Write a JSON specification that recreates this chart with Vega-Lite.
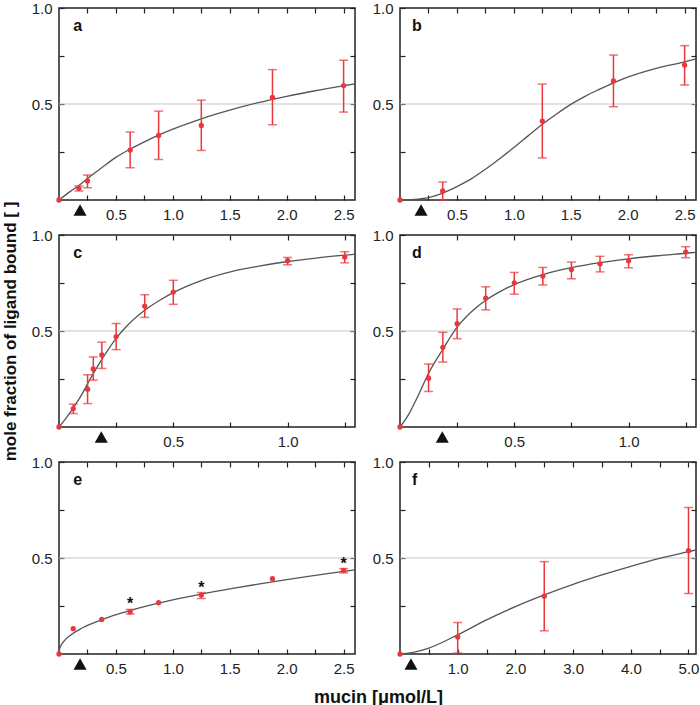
{
"$schema":"https://vega.github.io/schema/vega-lite/v6.json",
"padding":{"left":0,"top":0,"right":5,"bottom":3},
"bounds":"flush",
"columns":2,
"spacing":{"row":35,"column":45},
"datasets":{
"pts":[
{"p":"a","x":0,"y":0},{"p":"a","x":0.175,"y":0.061,"lo":0.047,"hi":0.073},{"p":"a","x":0.25,"y":0.099,"lo":0.064,"hi":0.13},{"p":"a","x":0.625,"y":0.26,"lo":0.168,"hi":0.354},{"p":"a","x":0.875,"y":0.336,"lo":0.211,"hi":0.463},{"p":"a","x":1.25,"y":0.388,"lo":0.258,"hi":0.52},{"p":"a","x":1.875,"y":0.534,"lo":0.392,"hi":0.679},{"p":"a","x":2.5,"y":0.596,"lo":0.458,"hi":0.728},
{"p":"b","x":0,"y":0},{"p":"b","x":0.375,"y":0.047,"lo":0,"hi":0.094},{"p":"b","x":1.25,"y":0.411,"lo":0.219,"hi":0.604},{"p":"b","x":1.875,"y":0.62,"lo":0.486,"hi":0.755},{"p":"b","x":2.5,"y":0.703,"lo":0.599,"hi":0.804},
{"p":"c","x":0,"y":0},{"p":"c","x":0.0625,"y":0.096,"lo":0.07,"hi":0.119},{"p":"c","x":0.125,"y":0.197,"lo":0.122,"hi":0.272},{"p":"c","x":0.15,"y":0.302,"lo":0.244,"hi":0.365},{"p":"c","x":0.1875,"y":0.375,"lo":0.305,"hi":0.442},{"p":"c","x":0.25,"y":0.471,"lo":0.403,"hi":0.539},{"p":"c","x":0.375,"y":0.63,"lo":0.571,"hi":0.689},{"p":"c","x":0.5,"y":0.703,"lo":0.639,"hi":0.764},{"p":"c","x":1.0,"y":0.866,"lo":0.845,"hi":0.883},{"p":"c","x":1.25,"y":0.885,"lo":0.855,"hi":0.913},
{"p":"d","x":0,"y":0},{"p":"d","x":0.125,"y":0.254,"lo":0.185,"hi":0.328},{"p":"d","x":0.1875,"y":0.415,"lo":0.338,"hi":0.493},{"p":"d","x":0.25,"y":0.538,"lo":0.46,"hi":0.615},{"p":"d","x":0.375,"y":0.671,"lo":0.61,"hi":0.73},{"p":"d","x":0.5,"y":0.751,"lo":0.692,"hi":0.805},{"p":"d","x":0.625,"y":0.786,"lo":0.74,"hi":0.831},{"p":"d","x":0.75,"y":0.82,"lo":0.772,"hi":0.859},{"p":"d","x":0.875,"y":0.85,"lo":0.808,"hi":0.889},{"p":"d","x":1.0,"y":0.866,"lo":0.829,"hi":0.897},{"p":"d","x":1.25,"y":0.911,"lo":0.882,"hi":0.939},
{"p":"e","x":0,"y":0},{"p":"e","x":0.125,"y":0.132},{"p":"e","x":0.375,"y":0.18},{"p":"e","x":0.625,"y":0.22,"lo":0.208,"hi":0.232,"star":"*"},{"p":"e","x":0.875,"y":0.267},{"p":"e","x":1.25,"y":0.307,"lo":0.289,"hi":0.32,"star":"*"},{"p":"e","x":1.875,"y":0.392},{"p":"e","x":2.5,"y":0.435,"lo":0.423,"hi":0.445,"star":"*"},
{"p":"f","x":0,"y":0},{"p":"f","x":1.0,"y":0.088,"lo":0.005,"hi":0.164},{"p":"f","x":2.5,"y":0.301,"lo":0.121,"hi":0.481},{"p":"f","x":5.0,"y":0.538,"lo":0.315,"hi":0.763}
],
"crv":[
{"p":"a","x":0,"y":0},{"p":"a","x":0.1,"y":0.045},{"p":"a","x":0.175,"y":0.076},{"p":"a","x":0.25,"y":0.112},{"p":"a","x":0.375,"y":0.168},{"p":"a","x":0.5,"y":0.222},{"p":"a","x":0.625,"y":0.265},{"p":"a","x":0.75,"y":0.303},{"p":"a","x":0.875,"y":0.338},{"p":"a","x":1.0,"y":0.369},{"p":"a","x":1.25,"y":0.423},{"p":"a","x":1.5,"y":0.468},{"p":"a","x":1.75,"y":0.507},{"p":"a","x":2.0,"y":0.54},{"p":"a","x":2.25,"y":0.569},{"p":"a","x":2.5,"y":0.595},{"p":"a","x":2.6,"y":0.605},
{"p":"b","x":0,"y":0},{"p":"b","x":0.125,"y":0.003},{"p":"b","x":0.25,"y":0.012},{"p":"b","x":0.375,"y":0.036},{"p":"b","x":0.5,"y":0.07},{"p":"b","x":0.625,"y":0.11},{"p":"b","x":0.75,"y":0.16},{"p":"b","x":0.875,"y":0.215},{"p":"b","x":1.0,"y":0.273},{"p":"b","x":1.125,"y":0.334},{"p":"b","x":1.25,"y":0.394},{"p":"b","x":1.375,"y":0.448},{"p":"b","x":1.5,"y":0.498},{"p":"b","x":1.625,"y":0.54},{"p":"b","x":1.75,"y":0.576},{"p":"b","x":1.875,"y":0.61},{"p":"b","x":2.0,"y":0.64},{"p":"b","x":2.25,"y":0.686},{"p":"b","x":2.5,"y":0.72},{"p":"b","x":2.6,"y":0.735},
{"p":"c","x":0,"y":0},{"p":"c","x":0.03,"y":0.045},{"p":"c","x":0.0625,"y":0.1},{"p":"c","x":0.1,"y":0.17},{"p":"c","x":0.125,"y":0.225},{"p":"c","x":0.15,"y":0.278},{"p":"c","x":0.1875,"y":0.352},{"p":"c","x":0.25,"y":0.462},{"p":"c","x":0.3,"y":0.53},{"p":"c","x":0.375,"y":0.608},{"p":"c","x":0.45,"y":0.667},{"p":"c","x":0.5,"y":0.7},{"p":"c","x":0.625,"y":0.764},{"p":"c","x":0.75,"y":0.808},{"p":"c","x":0.875,"y":0.838},{"p":"c","x":1.0,"y":0.862},{"p":"c","x":1.125,"y":0.88},{"p":"c","x":1.25,"y":0.895},{"p":"c","x":1.295,"y":0.9},
{"p":"d","x":0,"y":0},{"p":"d","x":0.04,"y":0.07},{"p":"d","x":0.08,"y":0.165},{"p":"d","x":0.125,"y":0.28},{"p":"d","x":0.1875,"y":0.405},{"p":"d","x":0.25,"y":0.52},{"p":"d","x":0.3125,"y":0.6},{"p":"d","x":0.375,"y":0.66},{"p":"d","x":0.4375,"y":0.705},{"p":"d","x":0.5,"y":0.742},{"p":"d","x":0.625,"y":0.794},{"p":"d","x":0.75,"y":0.83},{"p":"d","x":0.875,"y":0.856},{"p":"d","x":1.0,"y":0.876},{"p":"d","x":1.125,"y":0.892},{"p":"d","x":1.25,"y":0.905},{"p":"d","x":1.295,"y":0.91},
{"p":"e","x":0,"y":0},{"p":"e","x":0.005,"y":0.025},{"p":"e","x":0.02,"y":0.047},{"p":"e","x":0.05,"y":0.071},{"p":"e","x":0.1,"y":0.098},{"p":"e","x":0.2,"y":0.134},{"p":"e","x":0.3,"y":0.161},{"p":"e","x":0.45,"y":0.195},{"p":"e","x":0.6,"y":0.222},{"p":"e","x":0.8,"y":0.254},{"p":"e","x":1.0,"y":0.282},{"p":"e","x":1.25,"y":0.312},{"p":"e","x":1.5,"y":0.339},{"p":"e","x":1.75,"y":0.364},{"p":"e","x":2.0,"y":0.387},{"p":"e","x":2.25,"y":0.409},{"p":"e","x":2.5,"y":0.43},{"p":"e","x":2.6,"y":0.438},
{"p":"f","x":0,"y":0},{"p":"f","x":0.25,"y":0.01},{"p":"f","x":0.5,"y":0.031},{"p":"f","x":1.0,"y":0.1},{"p":"f","x":1.5,"y":0.178},{"p":"f","x":2.0,"y":0.247},{"p":"f","x":2.5,"y":0.308},{"p":"f","x":3.0,"y":0.363},{"p":"f","x":3.5,"y":0.412},{"p":"f","x":4.0,"y":0.457},{"p":"f","x":4.5,"y":0.498},{"p":"f","x":5.0,"y":0.533},{"p":"f","x":5.13,"y":0.542}
],
"mk":[{"p":"a","x":0.185},{"p":"b","x":0.185},{"p":"c","x":0.185},{"p":"d","x":0.185},{"p":"e","x":0.185},{"p":"f","x":0.19}]
},
"concat":[
{"width":296,"height":192,"resolve":{"axis":{"x":"independent","y":"independent"}},"layer":[
 {"data":{"values":[{"v":0.5}]},"mark":{"type":"rule","color":"#c8c8c8","strokeWidth":1.2},"encoding":{"y":{"field":"v","type":"quantitative","scale":{"domain":[0,1],"nice":false},"axis":null}}},
 {"data":{"name":"crv"},"transform":[{"filter":"datum.p=='a'"}],"mark":{"type":"line","color":"#555555","strokeWidth":1.3,"interpolate":"monotone"},"encoding":{"x":{"field":"x","type":"quantitative","scale":{"domain":[0,2.6],"nice":false},"axis":{"orient":"top","values":[0.25,0.5,0.75,1,1.25,1.5,1.75,2,2.25,2.5],"labels":false,"tickSize":-5,"title":null}},"y":{"field":"y","type":"quantitative","scale":{"domain":[0,1],"nice":false},"axis":{"orient":"right","values":[0.25,0.5,0.75,1],"labels":false,"tickSize":-5,"title":null}}}},
 {"data":{"name":"pts"},"transform":[{"filter":"datum.p=='a' && isValid(datum.lo)"}],"mark":{"type":"rule","color":"#e8383d","strokeWidth":1.5},"encoding":{"x":{"field":"x","type":"quantitative","axis":null},"y":{"field":"lo","type":"quantitative","axis":null},"y2":{"field":"hi"}}},
 {"data":{"name":"pts"},"transform":[{"filter":"datum.p=='a' && isValid(datum.lo)"}],"mark":{"type":"tick","orient":"horizontal","color":"#e8383d","size":9,"thickness":1.5},"encoding":{"x":{"field":"x","type":"quantitative","axis":null},"y":{"field":"lo","type":"quantitative","axis":null}}},
 {"data":{"name":"pts"},"transform":[{"filter":"datum.p=='a' && isValid(datum.lo)"}],"mark":{"type":"tick","orient":"horizontal","color":"#e8383d","size":9,"thickness":1.5},"encoding":{"x":{"field":"x","type":"quantitative","axis":null},"y":{"field":"hi","type":"quantitative","axis":null}}},
 {"data":{"name":"pts"},"transform":[{"filter":"datum.p=='a'"}],"mark":{"type":"circle","color":"#e8383d","size":28,"opacity":1},"encoding":{"x":{"field":"x","type":"quantitative","axis":{"orient":"bottom","values":[0.25,0.5,0.75,1,1.25,1.5,1.75,2,2.25,2.5],"labelExpr":"(datum.value*2)%1==0 ? format(datum.value,'.1f') : ''","tickSize":-5,"labelPadding":12,"title":null}},"y":{"field":"y","type":"quantitative","axis":{"orient":"left","values":[0.25,0.5,0.75,1],"labelExpr":"datum.value==0.5||datum.value==1 ? format(datum.value,'.1f') : ''","tickSize":-5,"labelPadding":12,"title":null}}}},
 {"data":{"name":"mk"},"transform":[{"filter":"datum.p=='a'"}],"mark":{"type":"point","shape":"triangle-up","filled":true,"color":"#111111","size":170,"opacity":1},"encoding":{"x":{"field":"x","type":"quantitative","axis":null},"y":{"datum":-0.052,"type":"quantitative","axis":null}}},
 {"data":{"values":[{"t":"a"}]},"mark":{"type":"text","align":"left","baseline":"middle","fontWeight":"bold","fontSize":16,"color":"#111111"},"encoding":{"text":{"field":"t"},"x":{"datum":0.125,"type":"quantitative","axis":null},"y":{"datum":0.906,"type":"quantitative","axis":null}}}
]},
{"width":296,"height":192,"resolve":{"axis":{"x":"independent","y":"independent"}},"layer":[
 {"data":{"values":[{"v":0.5}]},"mark":{"type":"rule","color":"#c8c8c8","strokeWidth":1.2},"encoding":{"y":{"field":"v","type":"quantitative","scale":{"domain":[0,1],"nice":false},"axis":null}}},
 {"data":{"name":"crv"},"transform":[{"filter":"datum.p=='b'"}],"mark":{"type":"line","color":"#555555","strokeWidth":1.3,"interpolate":"monotone"},"encoding":{"x":{"field":"x","type":"quantitative","scale":{"domain":[0,2.6],"nice":false},"axis":{"orient":"top","values":[0.25,0.5,0.75,1,1.25,1.5,1.75,2,2.25,2.5],"labels":false,"tickSize":-5,"title":null}},"y":{"field":"y","type":"quantitative","scale":{"domain":[0,1],"nice":false},"axis":{"orient":"right","values":[0.25,0.5,0.75,1],"labels":false,"tickSize":-5,"title":null}}}},
 {"data":{"name":"pts"},"transform":[{"filter":"datum.p=='b' && isValid(datum.lo)"}],"mark":{"type":"rule","color":"#e8383d","strokeWidth":1.5},"encoding":{"x":{"field":"x","type":"quantitative","axis":null},"y":{"field":"lo","type":"quantitative","axis":null},"y2":{"field":"hi"}}},
 {"data":{"name":"pts"},"transform":[{"filter":"datum.p=='b' && isValid(datum.lo)"}],"mark":{"type":"tick","orient":"horizontal","color":"#e8383d","size":9,"thickness":1.5},"encoding":{"x":{"field":"x","type":"quantitative","axis":null},"y":{"field":"lo","type":"quantitative","axis":null}}},
 {"data":{"name":"pts"},"transform":[{"filter":"datum.p=='b' && isValid(datum.lo)"}],"mark":{"type":"tick","orient":"horizontal","color":"#e8383d","size":9,"thickness":1.5},"encoding":{"x":{"field":"x","type":"quantitative","axis":null},"y":{"field":"hi","type":"quantitative","axis":null}}},
 {"data":{"name":"pts"},"transform":[{"filter":"datum.p=='b'"}],"mark":{"type":"circle","color":"#e8383d","size":28,"opacity":1},"encoding":{"x":{"field":"x","type":"quantitative","axis":{"orient":"bottom","values":[0.25,0.5,0.75,1,1.25,1.5,1.75,2,2.25,2.5],"labelExpr":"(datum.value*2)%1==0 ? format(datum.value,'.1f') : ''","tickSize":-5,"labelPadding":12,"title":null}},"y":{"field":"y","type":"quantitative","axis":{"orient":"left","values":[0.25,0.5,0.75,1],"labelExpr":"datum.value==0.5||datum.value==1 ? format(datum.value,'.1f') : ''","tickSize":-5,"labelPadding":12,"title":null}}}},
 {"data":{"name":"mk"},"transform":[{"filter":"datum.p=='b'"}],"mark":{"type":"point","shape":"triangle-up","filled":true,"color":"#111111","size":170,"opacity":1},"encoding":{"x":{"field":"x","type":"quantitative","axis":null},"y":{"datum":-0.052,"type":"quantitative","axis":null}}},
 {"data":{"values":[{"t":"b"}]},"mark":{"type":"text","align":"left","baseline":"middle","fontWeight":"bold","fontSize":16,"color":"#111111"},"encoding":{"text":{"field":"t"},"x":{"datum":0.105,"type":"quantitative","axis":null},"y":{"datum":0.906,"type":"quantitative","axis":null}}}
]},
{"width":296,"height":192,"resolve":{"axis":{"x":"independent","y":"independent"}},"layer":[
 {"data":{"values":[{"v":0.5}]},"mark":{"type":"rule","color":"#c8c8c8","strokeWidth":1.2},"encoding":{"y":{"field":"v","type":"quantitative","scale":{"domain":[0,1],"nice":false},"axis":null}}},
 {"data":{"name":"crv"},"transform":[{"filter":"datum.p=='c'"}],"mark":{"type":"line","color":"#555555","strokeWidth":1.3,"interpolate":"monotone"},"encoding":{"x":{"field":"x","type":"quantitative","scale":{"domain":[0,1.295],"nice":false},"axis":{"orient":"top","values":[0.25,0.5,0.75,1,1.25],"labels":false,"tickSize":-5,"title":null}},"y":{"field":"y","type":"quantitative","scale":{"domain":[0,1],"nice":false},"axis":{"orient":"right","values":[0.25,0.5,0.75,1],"labels":false,"tickSize":-5,"title":null}}}},
 {"data":{"name":"pts"},"transform":[{"filter":"datum.p=='c' && isValid(datum.lo)"}],"mark":{"type":"rule","color":"#e8383d","strokeWidth":1.5},"encoding":{"x":{"field":"x","type":"quantitative","axis":null},"y":{"field":"lo","type":"quantitative","axis":null},"y2":{"field":"hi"}}},
 {"data":{"name":"pts"},"transform":[{"filter":"datum.p=='c' && isValid(datum.lo)"}],"mark":{"type":"tick","orient":"horizontal","color":"#e8383d","size":9,"thickness":1.5},"encoding":{"x":{"field":"x","type":"quantitative","axis":null},"y":{"field":"lo","type":"quantitative","axis":null}}},
 {"data":{"name":"pts"},"transform":[{"filter":"datum.p=='c' && isValid(datum.lo)"}],"mark":{"type":"tick","orient":"horizontal","color":"#e8383d","size":9,"thickness":1.5},"encoding":{"x":{"field":"x","type":"quantitative","axis":null},"y":{"field":"hi","type":"quantitative","axis":null}}},
 {"data":{"name":"pts"},"transform":[{"filter":"datum.p=='c'"}],"mark":{"type":"circle","color":"#e8383d","size":28,"opacity":1},"encoding":{"x":{"field":"x","type":"quantitative","axis":{"orient":"bottom","values":[0.25,0.5,0.75,1,1.25],"labelExpr":"(datum.value*2)%1==0 ? format(datum.value,'.1f') : ''","tickSize":-5,"labelPadding":12,"title":null}},"y":{"field":"y","type":"quantitative","axis":{"orient":"left","values":[0.25,0.5,0.75,1],"labelExpr":"datum.value==0.5||datum.value==1 ? format(datum.value,'.1f') : ''","tickSize":-5,"labelPadding":12,"title":"mole fraction of ligand bound [ ]","titleFontSize":17,"titleX":-49,"titleBaseline":"middle"}}}},
 {"data":{"name":"mk"},"transform":[{"filter":"datum.p=='c'"}],"mark":{"type":"point","shape":"triangle-up","filled":true,"color":"#111111","size":170,"opacity":1},"encoding":{"x":{"field":"x","type":"quantitative","axis":null},"y":{"datum":-0.052,"type":"quantitative","axis":null}}},
 {"data":{"values":[{"t":"c"}]},"mark":{"type":"text","align":"left","baseline":"middle","fontWeight":"bold","fontSize":16,"color":"#111111"},"encoding":{"text":{"field":"t"},"x":{"datum":0.062,"type":"quantitative","axis":null},"y":{"datum":0.906,"type":"quantitative","axis":null}}}
]},
{"width":296,"height":192,"resolve":{"axis":{"x":"independent","y":"independent"}},"layer":[
 {"data":{"values":[{"v":0.5}]},"mark":{"type":"rule","color":"#c8c8c8","strokeWidth":1.2},"encoding":{"y":{"field":"v","type":"quantitative","scale":{"domain":[0,1],"nice":false},"axis":null}}},
 {"data":{"name":"crv"},"transform":[{"filter":"datum.p=='d'"}],"mark":{"type":"line","color":"#555555","strokeWidth":1.3,"interpolate":"monotone"},"encoding":{"x":{"field":"x","type":"quantitative","scale":{"domain":[0,1.295],"nice":false},"axis":{"orient":"top","values":[0.25,0.5,0.75,1,1.25],"labels":false,"tickSize":-5,"title":null}},"y":{"field":"y","type":"quantitative","scale":{"domain":[0,1],"nice":false},"axis":{"orient":"right","values":[0.25,0.5,0.75,1],"labels":false,"tickSize":-5,"title":null}}}},
 {"data":{"name":"pts"},"transform":[{"filter":"datum.p=='d' && isValid(datum.lo)"}],"mark":{"type":"rule","color":"#e8383d","strokeWidth":1.5},"encoding":{"x":{"field":"x","type":"quantitative","axis":null},"y":{"field":"lo","type":"quantitative","axis":null},"y2":{"field":"hi"}}},
 {"data":{"name":"pts"},"transform":[{"filter":"datum.p=='d' && isValid(datum.lo)"}],"mark":{"type":"tick","orient":"horizontal","color":"#e8383d","size":9,"thickness":1.5},"encoding":{"x":{"field":"x","type":"quantitative","axis":null},"y":{"field":"lo","type":"quantitative","axis":null}}},
 {"data":{"name":"pts"},"transform":[{"filter":"datum.p=='d' && isValid(datum.lo)"}],"mark":{"type":"tick","orient":"horizontal","color":"#e8383d","size":9,"thickness":1.5},"encoding":{"x":{"field":"x","type":"quantitative","axis":null},"y":{"field":"hi","type":"quantitative","axis":null}}},
 {"data":{"name":"pts"},"transform":[{"filter":"datum.p=='d'"}],"mark":{"type":"circle","color":"#e8383d","size":28,"opacity":1},"encoding":{"x":{"field":"x","type":"quantitative","axis":{"orient":"bottom","values":[0.25,0.5,0.75,1,1.25],"labelExpr":"(datum.value*2)%1==0 ? format(datum.value,'.1f') : ''","tickSize":-5,"labelPadding":12,"title":null}},"y":{"field":"y","type":"quantitative","axis":{"orient":"left","values":[0.25,0.5,0.75,1],"labelExpr":"datum.value==0.5||datum.value==1 ? format(datum.value,'.1f') : ''","tickSize":-5,"labelPadding":12,"title":null}}}},
 {"data":{"name":"mk"},"transform":[{"filter":"datum.p=='d'"}],"mark":{"type":"point","shape":"triangle-up","filled":true,"color":"#111111","size":170,"opacity":1},"encoding":{"x":{"field":"x","type":"quantitative","axis":null},"y":{"datum":-0.052,"type":"quantitative","axis":null}}},
 {"data":{"values":[{"t":"d"}]},"mark":{"type":"text","align":"left","baseline":"middle","fontWeight":"bold","fontSize":16,"color":"#111111"},"encoding":{"text":{"field":"t"},"x":{"datum":0.052,"type":"quantitative","axis":null},"y":{"datum":0.906,"type":"quantitative","axis":null}}}
]},
{"width":296,"height":192,"resolve":{"axis":{"x":"independent","y":"independent"}},"layer":[
 {"data":{"values":[{"v":0.5}]},"mark":{"type":"rule","color":"#c8c8c8","strokeWidth":1.2},"encoding":{"y":{"field":"v","type":"quantitative","scale":{"domain":[0,1],"nice":false},"axis":null}}},
 {"data":{"name":"crv"},"transform":[{"filter":"datum.p=='e'"}],"mark":{"type":"line","color":"#555555","strokeWidth":1.3,"interpolate":"monotone"},"encoding":{"x":{"field":"x","type":"quantitative","scale":{"domain":[0,2.6],"nice":false},"axis":{"orient":"top","values":[0.25,0.5,0.75,1,1.25,1.5,1.75,2,2.25,2.5],"labels":false,"tickSize":-5,"title":null}},"y":{"field":"y","type":"quantitative","scale":{"domain":[0,1],"nice":false},"axis":{"orient":"right","values":[0.25,0.5,0.75,1],"labels":false,"tickSize":-5,"title":null}}}},
 {"data":{"name":"pts"},"transform":[{"filter":"datum.p=='e' && isValid(datum.lo)"}],"mark":{"type":"rule","color":"#e8383d","strokeWidth":1.5},"encoding":{"x":{"field":"x","type":"quantitative","axis":null},"y":{"field":"lo","type":"quantitative","axis":null},"y2":{"field":"hi"}}},
 {"data":{"name":"pts"},"transform":[{"filter":"datum.p=='e' && isValid(datum.lo)"}],"mark":{"type":"tick","orient":"horizontal","color":"#e8383d","size":9,"thickness":1.5},"encoding":{"x":{"field":"x","type":"quantitative","axis":null},"y":{"field":"lo","type":"quantitative","axis":null}}},
 {"data":{"name":"pts"},"transform":[{"filter":"datum.p=='e' && isValid(datum.lo)"}],"mark":{"type":"tick","orient":"horizontal","color":"#e8383d","size":9,"thickness":1.5},"encoding":{"x":{"field":"x","type":"quantitative","axis":null},"y":{"field":"hi","type":"quantitative","axis":null}}},
 {"data":{"name":"pts"},"transform":[{"filter":"datum.p=='e'"}],"mark":{"type":"circle","color":"#e8383d","size":28,"opacity":1},"encoding":{"x":{"field":"x","type":"quantitative","axis":{"orient":"bottom","values":[0.25,0.5,0.75,1,1.25,1.5,1.75,2,2.25,2.5],"labelExpr":"(datum.value*2)%1==0 ? format(datum.value,'.1f') : ''","tickSize":-5,"labelPadding":12,"title":"mucin [μmol/L]","titleFontSize":18,"titleX":319,"titleY":48,"titleBaseline":"alphabetic"}},"y":{"field":"y","type":"quantitative","axis":{"orient":"left","values":[0.25,0.5,0.75,1],"labelExpr":"datum.value==0.5||datum.value==1 ? format(datum.value,'.1f') : ''","tickSize":-5,"labelPadding":12,"title":null}}}},
 {"data":{"name":"pts"},"transform":[{"filter":"datum.p=='e' && isValid(datum.star)"}],"mark":{"type":"text","baseline":"alphabetic","fontWeight":"bold","fontSize":16,"color":"#111111"},"encoding":{"text":{"field":"star"},"x":{"field":"x","type":"quantitative","axis":null},"y":{"field":"hi","type":"quantitative","axis":null}}},
 {"data":{"name":"mk"},"transform":[{"filter":"datum.p=='e'"}],"mark":{"type":"point","shape":"triangle-up","filled":true,"color":"#111111","size":170,"opacity":1},"encoding":{"x":{"field":"x","type":"quantitative","axis":null},"y":{"datum":-0.052,"type":"quantitative","axis":null}}},
 {"data":{"values":[{"t":"e"}]},"mark":{"type":"text","align":"left","baseline":"middle","fontWeight":"bold","fontSize":16,"color":"#111111"},"encoding":{"text":{"field":"t"},"x":{"datum":0.125,"type":"quantitative","axis":null},"y":{"datum":0.906,"type":"quantitative","axis":null}}}
]},
{"width":296,"height":192,"resolve":{"axis":{"x":"independent","y":"independent"}},"layer":[
 {"data":{"values":[{"v":0.5}]},"mark":{"type":"rule","color":"#c8c8c8","strokeWidth":1.2},"encoding":{"y":{"field":"v","type":"quantitative","scale":{"domain":[0,1],"nice":false},"axis":null}}},
 {"data":{"name":"crv"},"transform":[{"filter":"datum.p=='f'"}],"mark":{"type":"line","color":"#555555","strokeWidth":1.3,"interpolate":"monotone"},"encoding":{"x":{"field":"x","type":"quantitative","scale":{"domain":[0,5.13],"nice":false},"axis":{"orient":"top","values":[0.5,1,1.5,2,2.5,3,3.5,4,4.5,5],"labels":false,"tickSize":-5,"title":null}},"y":{"field":"y","type":"quantitative","scale":{"domain":[0,1],"nice":false},"axis":{"orient":"right","values":[0.25,0.5,0.75,1],"labels":false,"tickSize":-5,"title":null}}}},
 {"data":{"name":"pts"},"transform":[{"filter":"datum.p=='f' && isValid(datum.lo)"}],"mark":{"type":"rule","color":"#e8383d","strokeWidth":1.5},"encoding":{"x":{"field":"x","type":"quantitative","axis":null},"y":{"field":"lo","type":"quantitative","axis":null},"y2":{"field":"hi"}}},
 {"data":{"name":"pts"},"transform":[{"filter":"datum.p=='f' && isValid(datum.lo)"}],"mark":{"type":"tick","orient":"horizontal","color":"#e8383d","size":9,"thickness":1.5},"encoding":{"x":{"field":"x","type":"quantitative","axis":null},"y":{"field":"lo","type":"quantitative","axis":null}}},
 {"data":{"name":"pts"},"transform":[{"filter":"datum.p=='f' && isValid(datum.lo)"}],"mark":{"type":"tick","orient":"horizontal","color":"#e8383d","size":9,"thickness":1.5},"encoding":{"x":{"field":"x","type":"quantitative","axis":null},"y":{"field":"hi","type":"quantitative","axis":null}}},
 {"data":{"name":"pts"},"transform":[{"filter":"datum.p=='f'"}],"mark":{"type":"circle","color":"#e8383d","size":28,"opacity":1},"encoding":{"x":{"field":"x","type":"quantitative","axis":{"orient":"bottom","values":[0.5,1,1.5,2,2.5,3,3.5,4,4.5,5],"labelExpr":"datum.value%1==0 ? format(datum.value,'.1f') : ''","tickSize":-5,"labelPadding":12,"title":null}},"y":{"field":"y","type":"quantitative","axis":{"orient":"left","values":[0.25,0.5,0.75,1],"labelExpr":"datum.value==0.5||datum.value==1 ? format(datum.value,'.1f') : ''","tickSize":-5,"labelPadding":12,"title":null}}}},
 {"data":{"name":"mk"},"transform":[{"filter":"datum.p=='f'"}],"mark":{"type":"point","shape":"triangle-up","filled":true,"color":"#111111","size":170,"opacity":1},"encoding":{"x":{"field":"x","type":"quantitative","axis":null},"y":{"datum":-0.052,"type":"quantitative","axis":null}}},
 {"data":{"values":[{"t":"f"}]},"mark":{"type":"text","align":"left","baseline":"middle","fontWeight":"bold","fontSize":16,"color":"#111111"},"encoding":{"text":{"field":"t"},"x":{"datum":0.208,"type":"quantitative","axis":null},"y":{"datum":0.906,"type":"quantitative","axis":null}}}
]}
],
"config":{
 "font":"Liberation Sans",
 "view":{"stroke":"#222222","strokeWidth":1.5},
 "axis":{"labelFont":"Liberation Sans Narrow, Liberation Sans","labelFontSize":15,"labelColor":"#222222","tickColor":"#222222","tickWidth":1.2,"domain":false,"grid":false,"labelOverlap":false,"labelFlush":false,"titleFont":"Liberation Sans","titleFontWeight":"bold","titleFontSize":16,"titleColor":"#111111"}
}
}
